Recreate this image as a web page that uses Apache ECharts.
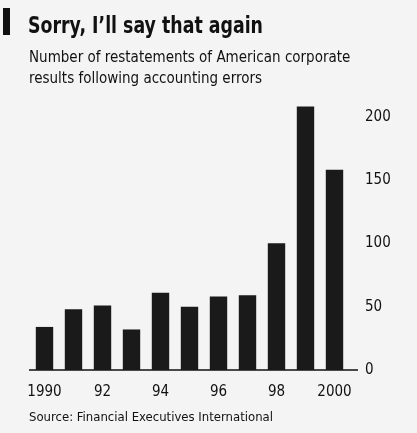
<!DOCTYPE html>
<html><head><meta charset="utf-8">
<script src="https://cdn.jsdelivr.net/npm/echarts@6/dist/echarts.min.js"></script>
<style>html,body{margin:0;padding:0;background:#f4f4f4;}#c{width:417px;height:433px;}</style>
</head><body><div id="c"></div>
<script>
const years = ['1990','1991','1992','1993','1994','1995','1996','1997','1998','1999','2000'];
const yearLabels = ['1990','','92','','94','','96','','98','','2000'];
const restatements = [34, 48, 51, 32, 61, 50, 58, 59, 100, 208, 158];
const yTicks = [0, 50, 100, 150, 200];

const FONT = '"DejaVu Sans Condensed", "Liberation Sans Narrow", sans-serif';
const chart = echarts.init(document.getElementById('c'), null, {renderer: 'canvas'});
chart.setOption({
  backgroundColor: '#f4f4f4',
  animation: false,
  title: [
    {text: 'Number of restatements of American corporate\nresults following accounting errors', left: 24, top: 43,
     textStyle: {fontFamily: FONT, fontWeight: 'normal', fontSize: 15, lineHeight: 21, color: '#111'}},
    {text: 'Source: Financial Executives International', left: 24, top: 406,
     textStyle: {fontFamily: FONT, fontWeight: 'normal', fontSize: 13, color: '#111'}}
  ],
  graphic: [
    {type: 'rect', shape: {x: 3, y: 8, width: 7, height: 27}, style: {fill: '#111'}},
    {type: 'text', x: 28, y: 27, scaleX: 0.84,
     style: {text: 'Sorry, I\u2019ll say that again', fontFamily: FONT, fontWeight: 'bold', fontSize: 23,
             fill: '#111', verticalAlign: 'middle', align: 'left'}},
    {type: 'line', shape: {x1: 29, y1: 370, x2: 358, y2: 370}, style: {stroke: '#111', lineWidth: 1.5}}
  ],
  grid: {left: 30, right: 68, top: 104, bottom: 63, containLabel: false},
  xAxis: {
    type: 'category', data: years,
    axisLine: {show: false},
    axisTick: {show: false},
    axisLabel: {interval: 0, margin: 15, fontFamily: FONT, fontSize: 15, color: '#111',
      formatter: (v, i) => yearLabels[i]}
  },
  yAxis: {
    type: 'value', position: 'right', min: 0, max: 210, interval: 50,
    splitLine: {show: false}, axisLine: {show: false}, axisTick: {show: false},
    axisLabel: {margin: 16, fontFamily: FONT, fontSize: 15, color: '#111',
      formatter: v => yTicks.includes(v) ? String(v) : ''}
  },
  series: [{
    type: 'bar', data: restatements, barWidth: '60%',
    itemStyle: {color: '#1a1a1a'}
  }]
});
</script></body></html>
